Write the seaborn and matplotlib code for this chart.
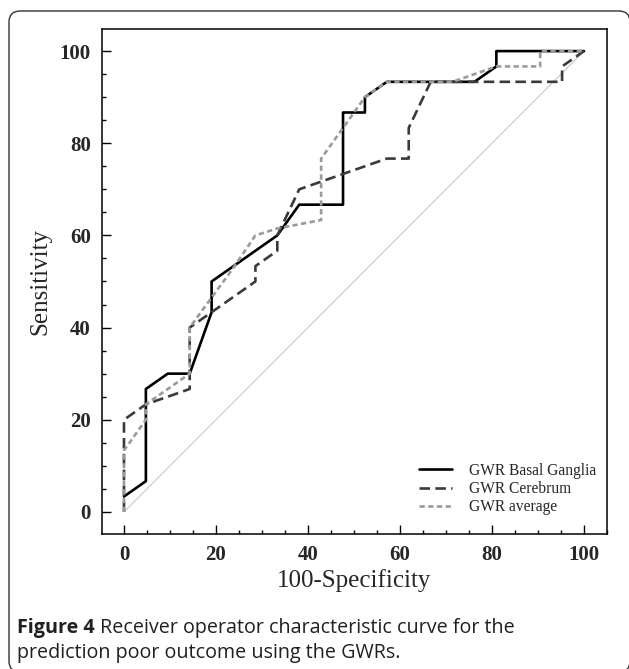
import numpy as np
import pandas as pd
import matplotlib
matplotlib.use("Agg")
import matplotlib.pyplot as plt
import seaborn as sns
from matplotlib.patches import FancyBboxPatch
from matplotlib.transforms import IdentityTransform
from matplotlib.ticker import MultipleLocator

# ROC points (100-Specificity, Sensitivity)
basal_x = [0, 4.76, 4.76, 9.52, 14.29, 19.05, 19.05, 33.33, 38.10, 47.62, 47.62,
           52.38, 52.38, 57.14, 76.19, 80.95, 80.95, 100]
basal_y = [3.33, 6.67, 26.67, 30, 30, 43.33, 50, 60, 66.67, 66.67, 86.67,
           86.67, 90, 93.33, 93.33, 96.67, 100, 100]

cereb_x = [0, 0, 4.76, 14.29, 14.29, 28.57, 28.57, 33.33, 33.33, 38.10, 57.14,
           61.90, 61.90, 66.67, 95.24, 95.24, 100]
cereb_y = [0, 20, 23.33, 26.67, 40, 50, 53.33, 56.67, 60, 70, 76.67,
           76.67, 83.33, 93.33, 93.33, 96.67, 100]

avg_x = [0, 0, 4.76, 4.76, 14.29, 14.29, 19.05, 23.81, 28.57, 33.33, 42.86, 42.86,
         47.62, 52.38, 57.14, 71.43, 80.95, 90.48, 90.48, 100]
avg_y = [0, 13.33, 20, 23.33, 30, 40, 46.5, 53, 60, 61.5, 63.33, 76.67,
         83.33, 90, 93.33, 93.33, 96.67, 96.67, 100, 100]

ref_x = [0, 100]
ref_y = [0, 100]

series_names = ["GWR Basal Ganglia", "GWR Cerebrum", "GWR average"]
caption_bold = "Figure 4"
caption_rest = " Receiver operator characteristic curve for the"
caption_line2 = "prediction poor outcome using the GWRs."

sns.set_theme(style="white")
plt.rcParams["font.family"] = ["Liberation Serif", "DejaVu Serif"]

fig = plt.figure(figsize=(6.29, 6.69), dpi=100)
ax = fig.add_axes([0.162, 0.2018, 0.803, 0.7549])

sns.lineplot(x=ref_x, y=ref_y, ax=ax, color="#c8c8c8", linewidth=0.8,
             sort=False, estimator=None)
sns.lineplot(x=basal_x, y=basal_y, ax=ax, color="black", linewidth=1.9,
             sort=False, estimator=None, label=series_names[0])
sns.lineplot(x=cereb_x, y=cereb_y, ax=ax, color="#3a3a3a", linewidth=1.9,
             sort=False, estimator=None, label=series_names[1])
sns.lineplot(x=avg_x, y=avg_y, ax=ax, color="#9a9a9a", linewidth=1.9,
             sort=False, estimator=None, label=series_names[2])
ax.lines[2].set_linestyle((0, (4, 2)))
ax.lines[3].set_linestyle((0, (2, 1.3)))

ax.set_xlim(-4.8, 105)
ax.set_ylim(-4.8, 104.8)
ax.xaxis.set_major_locator(MultipleLocator(20))
ax.yaxis.set_major_locator(MultipleLocator(20))
ax.xaxis.set_minor_locator(MultipleLocator(5))
ax.yaxis.set_minor_locator(MultipleLocator(5))
ax.tick_params(which="major", direction="in", length=6.5, width=1, color="black",
               labelsize=15, pad=8, bottom=True, left=True, top=False, right=False)
ax.tick_params(which="minor", direction="in", length=3, width=1, color="black",
               bottom=True, left=True, top=False, right=False)
for lab in ax.get_xticklabels() + ax.get_yticklabels():
    lab.set_fontweight("bold")
for sp in ax.spines.values():
    sp.set_color("black")
    sp.set_linewidth(1.1)

ax.set_xlabel("100-Specificity", fontsize=18, labelpad=2.5)
ax.set_ylabel("Sensitivity", fontsize=18, labelpad=6)

ax.legend(loc="lower right", bbox_to_anchor=(0.978, 0.037), frameon=False,
          fontsize=11.2, borderpad=0, borderaxespad=0, labelspacing=0.15,
          handlelength=2.1, handletextpad=1.1)

# rounded frame around the figure
frame = FancyBboxPatch((9, -3), 621, 661, boxstyle="round,pad=0,rounding_size=11",
                       transform=IdentityTransform(), facecolor="none",
                       edgecolor="#333333", linewidth=1.0)
fig.add_artist(frame)

cap_font = ["Open Sans", "DejaVu Sans"]
cap_size = 14.2
t1 = fig.text(17 / 629, 1 - 628 / 669, caption_bold, family=cap_font, fontsize=cap_size,
              fontweight="bold", color="#231f20", va="center", ha="left")
fig.canvas.draw()
bb = t1.get_window_extent(renderer=fig.canvas.get_renderer())
fig.text(bb.x1 / 629, 1 - 628 / 669, caption_rest, family=cap_font, fontsize=cap_size,
         color="#231f20", va="center", ha="left")
fig.text(17 / 629, 1 - 653 / 669, caption_line2, family=cap_font, fontsize=cap_size,
         color="#231f20", va="center", ha="left")

fig.savefig("out.png", dpi=100)
